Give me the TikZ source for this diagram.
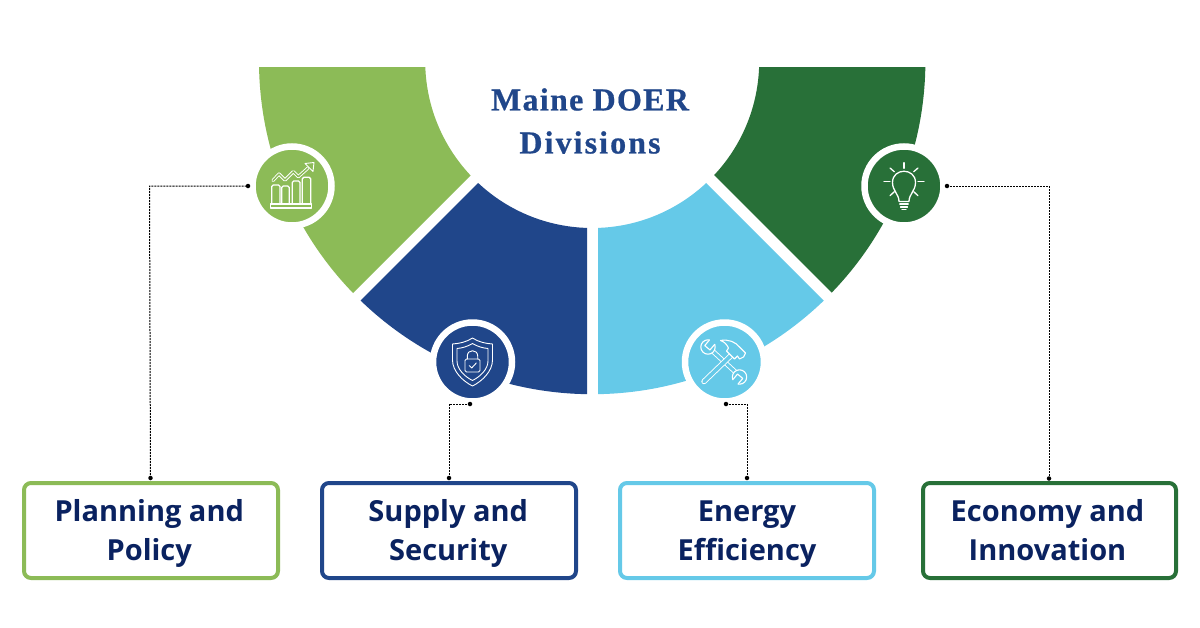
\documentclass[tikz,border=0pt]{standalone}
\usepackage{fontspec}
\setmainfont{Open Sans}
\newfontfamily\titlefont[BoldFeatures={FakeBold=0.6}]{Liberation Serif}
\definecolor{cLG}{HTML}{8CBB57}
\definecolor{cBL}{HTML}{20468A}
\definecolor{cSK}{HTML}{65C9E8}
\definecolor{cDG}{HTML}{287038}
\definecolor{cNavy}{HTML}{0A2260}
\tikzset{
  divbox/.style={draw=#1,line width=4pt,rounded corners=7pt,fill=white,minimum width=254pt,minimum height=95pt,inner sep=0pt,
    text=cNavy,align=center,font=\fontsize{29}{39}\selectfont\bfseries},
  badge/.style={circle,fill=#1,draw=white,line width=6.5pt,minimum size=79pt,inner sep=0pt},
  link/.style={draw=black,line width=1pt,dash pattern=on 2pt off 1pt},
  enddot/.style={circle,fill=black,inner sep=0pt,minimum size=4.5pt},
  icon/.style={draw=white,line width=1.3pt,line join=round,line cap=round},
}
\newcommand{\annulus}[1]{\fill[#1,even odd rule] (592.2,61) circle (333.2) (592.2,61) circle (167);}
\newcommand{\twolines}[3]{\smash{#2}\rule{0pt}{20.7pt}\kern#1\\\smash{#3}\kern#1}
\begin{document}
\begin{tikzpicture}[x=1pt,y=-1pt]
\useasboundingbox (0,0) rectangle (1200,627);
\fill[white] (0,0) rectangle (1200,627);
% sectors
\begin{scope}\clip (200,67) -- (579,67) -- (200,446) -- cycle; \annulus{cLG} \end{scope}
\begin{scope}\clip (587,74) -- (587,501) -- (160,501) -- cycle; \annulus{cBL} \end{scope}
\begin{scope}\clip (598,75) -- (598,501) -- (1024,501) -- cycle; \annulus{cSK} \end{scope}
\begin{scope}\clip (606,67) -- (985,67) -- (985,446) -- cycle; \annulus{cDG} \end{scope}
% title
\node (title) at (590,121) [align=center,text=cBL,font=\titlefont\fontsize{32}{43}\selectfont\bfseries] {{\addfontfeature{LetterSpace=4}Maine DOER}\\{\addfontfeature{LetterSpace=6.5}Divisions}};
% boxes
\node[divbox=cLG] (b1) at (151,530.5) {\twolines{3.5pt}{Planning and}{Policy}};
\node[divbox=cBL] (b2) at (449,530.5) {\twolines{1.5pt}{Supply and}{Security}};
\node[divbox=cSK] (b3) at (747,530.5) {\twolines{0pt}{Energy}{Efficiency}};
\node[divbox=cDG,minimum width=253pt] (b4) at (1049.5,530.5) {\twolines{4pt}{Economy and}{Innovation}};
% badges
\node[badge=cLG] (c1) at (292,186) {};
\node[badge=cBL] (c2) at (472.5,362) {};
\node[badge=cSK] (c3) at (724.5,362) {};
\node[badge=cDG] (c4) at (904,186) {};
% connectors
\node[enddot] (d1) at (248,186) {};
\node[enddot] (d2) at (470,404) {};
\node[enddot] (d3) at (726,404) {};
\node[enddot] (d4) at (947,186) {};
\node[enddot] (e1) at (150.5,478) {};
\node[enddot] (e4) at (1049,478.5) {};
\node[enddot] (e2) at (449,478) {};
\node[enddot] (e3) at (747,478) {};
\draw[link] (e1.center) -- (149.5,186) -- (d1.center);
\draw[link] (e2.center) |- (d2.center);
\draw[link] (e3.center) |- (d3.center);
\draw[link] (e4.center) |- (d4.center);
% chart icon
\begin{scope}[shift={(292,186)},icon]
\draw[rounded corners=1.5pt] (-20.3,18) -- (-20.3,-1) -- (-12,-1) -- (-12,18);
\draw[rounded corners=1.5pt] (-10.3,18) -- (-10.3,0) -- (-2.7,0) -- (-2.7,18);
\draw[rounded corners=1.5pt] (0.3,18) -- (0.3,-5) -- (8,-5) -- (8,18);
\draw[rounded corners=1.5pt] (10.3,18) -- (10.3,-8.7) -- (18.7,-8.7) -- (18.7,18);
\draw (-21.3,18) rectangle (19.7,22);
\draw[line width=.9pt,double=cLG,double distance=1.4pt] (-19,-5.5) -- (-13,-12) -- (-7,-6) -- (1.3,-14.3) -- (6.3,-9.3) -- (16,-18);
\draw[line width=.9pt,fill=cLG] (13,-22.5) -- (22,-23.5) -- (21,-14.5) -- cycle;
\end{scope}
% shield icon
\begin{scope}[shift={(472.5,362)},icon,line width=.9pt]
\draw (0,-24) .. controls (-6,-20) and (-13,-18.5) .. (-20,-18) -- (-20,-2) .. controls (-20,9) and (-10,19) .. (0,24)
  .. controls (10,19) and (20,9) .. (20,-2) -- (20,-18) .. controls (13,-18.5) and (6,-20) .. (0,-24) -- cycle;
\draw (0,-18.5) .. controls (-5,-15.5) and (-10,-14) .. (-15.5,-13.5) -- (-15.5,-1) .. controls (-15.5,7) and (-8,14.5) .. (0,18.5)
  .. controls (8,14.5) and (15.5,7) .. (15.5,-1) -- (15.5,-13.5) .. controls (10,-14) and (5,-15.5) .. (0,-18.5) -- cycle;
\draw[rounded corners=1.5pt] (-7.5,-3) rectangle (7.5,10);
\draw (-5.2,-3) -- (-5.2,-6) .. controls (-5.2,-13) and (5.2,-13) .. (5.2,-6) -- (5.2,-3);
\draw (-3.2,3.6) -- (-0.8,6) -- (3.8,1);
\end{scope}
% tools icon
\begin{scope}[shift={(724.5,362)},icon,line width=1.1pt]
% wrench
\draw[line width=.9pt,double=cSK,double distance=3pt,line cap=butt] (-12,-11) -- (12,11);
\draw[fill=cSK] (-16.5,-15) circle (7.2);
\draw[fill=cSK] (15,15) circle (7.2);
\begin{scope}[shift={(-16.5,-15)},rotate=-40]
\fill[cSK,draw=none] (-3.4,1) rectangle (3.4,-8.5);
\draw (-3.4,-6.3) -- (-3.4,1) -- (3.4,1) -- (3.4,-6.3);
\end{scope}
\begin{scope}[shift={(15,15)},rotate=140]
\fill[cSK,draw=none] (-3.4,1) rectangle (3.4,-8.5);
\draw (-3.4,-6.3) -- (-3.4,1) -- (3.4,1) -- (3.4,-6.3);
\end{scope}
% hammer
\draw[line width=.9pt,double=cSK,double distance=3.6pt,line cap=round] (-20.5,19.5) -- (6,-6);
\draw[fill=cSK] (-4,-21.5) .. controls (4,-23) and (11,-20) .. (15,-15) -- (21,-9) -- (19,-5) -- (15,-3) -- (13,-6)
  -- (10,-3) -- (2,-11) -- (4,-14) .. controls (2,-18) and (0,-20) .. (-4,-21.5) -- cycle;
\end{scope}
% bulb icon
\begin{scope}[shift={(904,186)},icon]
\draw (-5,15.5) .. controls (-5,8) and (-11.5,5) .. (-11.5,-3.5) .. controls (-11.5,-18.5) and (11.5,-18.5) .. (11.5,-3.5)
  .. controls (11.5,5) and (5,8) .. (5,15.5) -- cycle;
\draw (-4.2,18) -- (4.2,18);
\draw (-3.5,21) -- (3.5,21);
\draw (-2,23.5) -- (2,23.5);
\draw (0,-23.3) -- (0,-17.7);
\draw (-14,-18) -- (-9.7,-14.3);
\draw (14,-18) -- (9.7,-14.3);
\draw (-20,-4.3) -- (-14,-4.3);
\draw (20,-4.3) -- (14,-4.3);
\draw (-14,9.7) -- (-9.7,5.7);
\draw (14,9.7) -- (9.7,5.7);
\end{scope}
\end{tikzpicture}
\end{document}
